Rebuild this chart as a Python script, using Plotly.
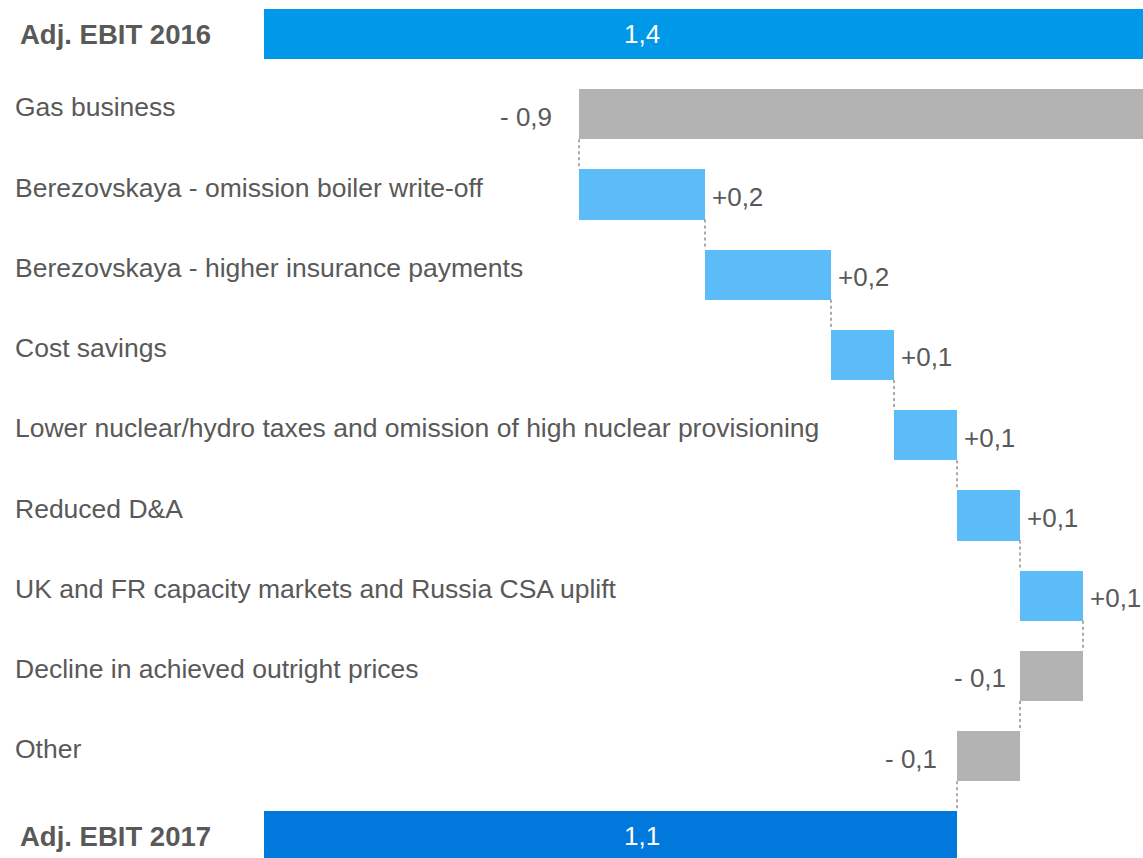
import plotly.graph_objects as go

categories = [
    "Adj. EBIT 2016",
    "Gas business",
    "Berezovskaya - omission boiler write-off",
    "Berezovskaya - higher insurance payments",
    "Cost savings",
    "Lower nuclear/hydro taxes and omission of high nuclear provisioning",
    "Reduced D&A",
    "UK and FR capacity markets and Russia CSA uplift",
    "Decline in achieved outright prices",
    "Other",
    "Adj. EBIT 2017",
]
measures = ["absolute", "relative", "relative", "relative", "relative", "relative",
            "relative", "relative", "relative", "relative", "total"]
values = [1.4, -0.9, 0.2, 0.2, 0.1, 0.1, 0.1, 0.1, -0.1, -0.1, None]
value_labels = ["1,4", "- 0,9", "+0,2", "+0,2", "+0,1", "+0,1", "+0,1", "+0,1", "- 0,1", "- 0,1", "1,1"]

C_START = "#0099EA"
C_END = "#0078DC"
C_UP = "#5BBCF7"
C_DOWN = "#B3B3B3"
TXT = "#595959"
FONT = "Liberation Sans, Arial, sans-serif"

# label offsets (px) for negative-value labels
neg_shift = {1: -25, 8: -12, 9: -18}

X_MIN, X_MAX = -0.4190, 1.3952
Y_TOP, Y_BOTTOM = -0.4237, 10.268

# compute bases / lengths
bases, lengths, colors, ends = [], [], [], []
running = 0.0
for i, (m, v) in enumerate(zip(measures, values)):
    if m == "absolute":
        running = v
        bases.append(0.0); lengths.append(v); colors.append(C_START)
    elif m == "total":
        bases.append(0.0); lengths.append(running); colors.append(C_END)
    else:
        start = running
        running = running + v
        bases.append(min(start, running)); lengths.append(abs(v))
        colors.append(C_UP if v > 0 else C_DOWN)
    ends.append(running)

ypos = list(range(len(categories)))
HALF = 0.312

fig = go.Figure()
fig.add_trace(go.Bar(
    orientation="h", y=ypos, x=lengths, base=bases,
    marker=dict(color=colors, line=dict(width=0)), width=2 * HALF,
    hoverinfo="skip", showlegend=False,
))

# connectors (skip those falling outside the visible range)
cx, cy = [], []
for i in range(len(categories) - 1):
    if ends[i] >= X_MAX:
        continue
    cx += [ends[i], ends[i], None]
    cy += [i + HALF, i + 1 - HALF, None]
fig.add_trace(go.Scatter(
    x=cx, y=cy, mode="lines", line=dict(color="#555555", width=1, dash="dot"),
    hoverinfo="skip", showlegend=False,
))

annotations = []
n = len(categories)
for i, cat in enumerate(categories):
    bold = i == 0 or i == n - 1
    annotations.append(dict(
        xref="paper", yref="y", x=13 / 1143 if not bold else 18 / 1143, y=i if bold else i - 0.085,
        text=f"<b>{cat}</b>" if bold else cat, showarrow=False,
        xanchor="left", yanchor="middle",
        font=dict(family=FONT, size=27.5 if bold else 26.5, color=TXT),
    ))
    if measures[i] in ("absolute", "total"):
        annotations.append(dict(
            xref="x", yref="y", x=0.6, y=i, text=value_labels[i], showarrow=False,
            xanchor="center", yanchor="middle",
            font=dict(family=FONT, size=26, color="white"),
        ))
    elif values[i] > 0:
        annotations.append(dict(
            xref="x", yref="y", x=bases[i] + lengths[i], y=i + 0.03, text=value_labels[i],
            showarrow=False, xanchor="left", yanchor="middle", xshift=5,
            font=dict(family=FONT, size=26, color=TXT),
        ))
    else:
        annotations.append(dict(
            xref="x", yref="y", x=bases[i], y=i + 0.03, text=value_labels[i],
            showarrow=False, xanchor="right", yanchor="middle", xshift=neg_shift.get(i, -18),
            font=dict(family=FONT, size=26, color=TXT),
        ))

fig.update_layout(
    width=1143, height=858,
    margin=dict(l=0, r=0, t=0, b=0),
    paper_bgcolor="white", plot_bgcolor="white",
    xaxis=dict(range=[X_MIN, X_MAX], visible=False, fixedrange=True),
    yaxis=dict(range=[Y_BOTTOM, Y_TOP], visible=False, fixedrange=True),
    annotations=annotations,
    bargap=0,
)

fig.write_html("out.html", config={"displayModeBar": False},
               post_script="document.body.style.margin='0';document.body.style.padding='0';")
